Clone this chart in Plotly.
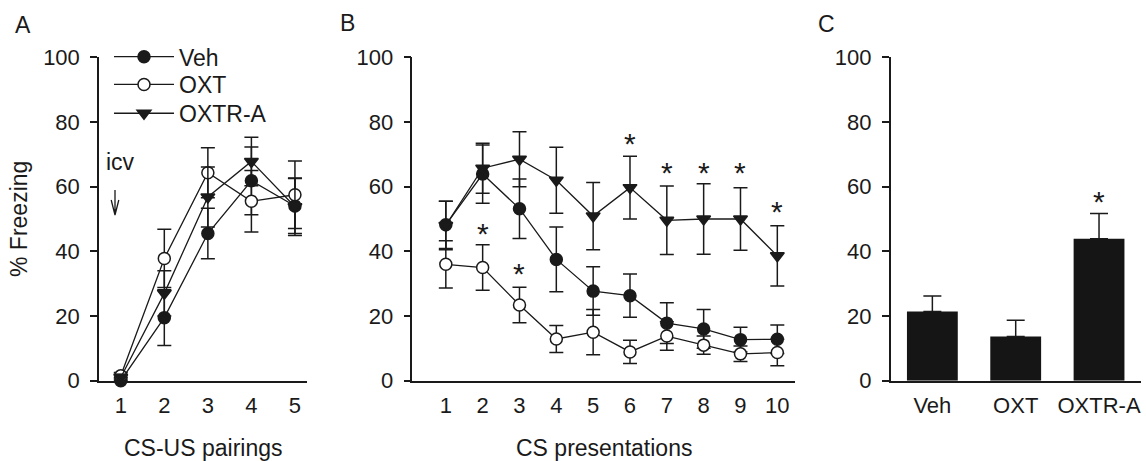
import plotly.graph_objects as go

# ---------------- data ----------------
a_x = [1, 2, 3, 4, 5]
a_veh = [0, 19.5, 45.5, 61.8, 54]
a_veh_err = [1, 8.6, 7.8, 10.5, 8.5]
a_oxt = [1.5, 37.8, 64.3, 55.5, 57.5]
a_oxt_err = [1, 9, 7.7, 9.5, 10.4]
a_oxtra = [1, 27, 56.8, 67.8, 53.8]
a_oxtra_err = [1, 7, 9.3, 7.5, 8.9]

b_x = [1, 2, 3, 4, 5, 6, 7, 8, 9, 10]
b_veh = [48.2, 63.9, 53.2, 37.5, 27.7, 26.3, 17.8, 16, 12.7, 12.8]
b_veh_err = [7.3, 9, 9.2, 10, 7.5, 6.7, 6.3, 6, 3.8, 4.4]
b_oxt = [36, 35, 23.4, 12.9, 15, 8.9, 13.8, 11, 8.3, 8.7]
b_oxt_err = [7.3, 7, 5.5, 4.2, 7, 3.6, 4.4, 2.8, 2.4, 4.1]
b_oxtra = [48, 65.7, 68.5, 62, 50.9, 59.7, 49.6, 50, 50, 38.6]
b_oxtra_err = [7.5, 7.7, 8.5, 10.2, 10.4, 9.7, 10.6, 10.9, 9.7, 9.3]
b_star_x = [2, 3, 6, 7, 8, 9, 10]
b_star_y = [46.4, 34.2, 74.4, 65.2, 65.2, 65.2, 53.3]

c_labels = ["Veh", "OXT", "OXTR-A"]
c_vals = [21.4, 13.7, 43.9]
c_err = [4.8, 5, 7.8]
c_star_x = ["OXTR-A"]
c_star_y = [56.2]

y_ticks = [0, 20, 40, 60, 80, 100]

# ---------------- style ----------------
W, H = 1146, 461
INK = "#1a1a1a"
FONT = "Liberation Sans, Arial, sans-serif"
FS = 23
TFS = 22


def px_x(p):
    return p / W


def px_y(p):
    return (H - p) / H


fig = go.Figure()

series = [
    ("Veh", "circle", INK),
    ("OXT", "circle", "white"),
    ("OXTR-A", "triangle-down", INK),
]
legend_ids = ["legend", "legend2", "legend3"]
legend_rows = [56.7, 84.5, 113.3]
a_vals = [(a_veh, a_veh_err), (a_oxt, a_oxt_err), (a_oxtra, a_oxtra_err)]
b_vals = [(b_veh, b_veh_err), (b_oxt, b_oxt_err), (b_oxtra, b_oxtra_err)]

for (name, sym, fill), (vals, err), lg in zip(series, a_vals, legend_ids):
    fig.add_trace(go.Scatter(
        x=a_x, y=vals, name=name, showlegend=True, legend=lg,
        mode="lines+markers", xaxis="x", yaxis="y", cliponaxis=False,
        line=dict(color=INK, width=1.3),
        marker=dict(symbol=sym, size=12, color=fill, line=dict(color=INK, width=1.5)),
        error_y=dict(type="data", array=err, color=INK, thickness=1.5, width=7),
    ))

for (name, sym, fill), (vals, err) in zip(series, b_vals):
    fig.add_trace(go.Scatter(
        x=b_x, y=vals, name=name, showlegend=False,
        mode="lines+markers", xaxis="x2", yaxis="y2", cliponaxis=False,
        line=dict(color=INK, width=1.3),
        marker=dict(symbol=sym, size=12, color=fill, line=dict(color=INK, width=1.5)),
        error_y=dict(type="data", array=err, color=INK, thickness=1.5, width=7),
    ))

fig.add_trace(go.Bar(
    x=c_labels, y=c_vals, xaxis="x3", yaxis="y3", showlegend=False,
    width=0.61, marker=dict(color="#151515", line=dict(width=0)),
    error_y=dict(type="data", symmetric=False, array=c_err,
                 arrayminus=[0] * len(c_err), color=INK, thickness=1.5, width=9),
))

# ---------------- axes ----------------
y_dom = [px_y(380.7), px_y(57.3)]
yax = dict(range=[0, 100], tickvals=y_ticks, ticks="outside", ticklen=7, tickwidth=1.5,
           tickcolor=INK, showline=True, linecolor=INK, linewidth=1.5, showgrid=False,
           zeroline=False, tickfont=dict(family=FONT, size=TFS, color=INK),
           ticklabelstandoff=6, domain=y_dom, fixedrange=True, automargin=False)
xax = dict(showline=True, linecolor=INK, linewidth=1.5, showgrid=False, zeroline=False,
           ticks="outside", ticklen=4, tickcolor="rgba(0,0,0,0)",
           tickfont=dict(family=FONT, size=TFS, color=INK), fixedrange=True, automargin=False)

leg_common = dict(xanchor="left", yanchor="middle", font=dict(family=FONT, size=FS, color=INK),
                  bgcolor="rgba(0,0,0,0)", itemwidth=60)

fig.update_layout(
    width=W, height=H, margin=dict(l=0, r=0, t=0, b=0, pad=0, autoexpand=False),
    plot_bgcolor="white", paper_bgcolor="white",
    font=dict(family=FONT, size=FS, color=INK),
    xaxis=dict(xax, domain=[px_x(99), px_x(306.7)], range=[0.5, 5.27], tickvals=a_x,
               anchor="y"),
    yaxis=dict(yax, anchor="x"),
    xaxis2=dict(xax, domain=[px_x(412.3), px_x(795)], range=[0.09, 10.48], tickvals=b_x,
                anchor="y2"),
    yaxis2=dict(yax, anchor="x2"),
    xaxis3=dict(xax, domain=[px_x(890.7), px_x(1140.7)], range=[-0.5, 2.5],
                type="category", anchor="y3"),
    yaxis3=dict(yax, anchor="x3"),
    showlegend=True,
    bargap=0.39,
)
for lg, row in zip(legend_ids, legend_rows):
    fig.update_layout({lg: dict(leg_common, x=px_x(109), y=px_y(row))})

ann = []
# panel letters
for t, x, y in [("A", 23, 25), ("B", 347.5, 23.5), ("C", 826.7, 24)]:
    ann.append(dict(text=t, x=px_x(x), y=px_y(y), xref="paper", yref="paper",
                    xanchor="center", yanchor="middle", showarrow=False,
                    font=dict(family=FONT, size=FS, color=INK)))
# axis titles
ann.append(dict(text="CS-US pairings", x=px_x(203), y=px_y(448), xref="paper", yref="paper",
                xanchor="center", yanchor="middle", showarrow=False))
ann.append(dict(text="CS presentations", x=px_x(603.5), y=px_y(448), xref="paper", yref="paper",
                xanchor="center", yanchor="middle", showarrow=False))
ann.append(dict(text="% Freezing", x=px_x(19), y=px_y(219), xref="paper", yref="paper",
                xanchor="center", yanchor="middle", textangle=-90, showarrow=False))
# icv label
ann.append(dict(text="icv", x=px_x(120), y=px_y(162), xref="paper", yref="paper",
                xanchor="center", yanchor="middle", showarrow=False))
# significance stars
for sx, sy in zip(b_star_x, b_star_y):
    ann.append(dict(text="*", x=sx, y=sy, xref="x2", yref="y2", xanchor="center",
                    yanchor="middle", showarrow=False, yshift=-3,
                    font=dict(family=FONT, size=30, color=INK)))
for sx, sy in zip(c_star_x, c_star_y):
    ann.append(dict(text="*", x=sx, y=sy, xref="x3", yref="y3", xanchor="center",
                    yanchor="middle", showarrow=False, yshift=-3,
                    font=dict(family=FONT, size=30, color=INK)))
fig.update_layout(annotations=ann)

# icv arrow (open head)
ax0, ay0, ay1 = px_x(115), px_y(190), px_y(215)
hx0, hx1, hy = px_x(111.2), px_x(118.8), px_y(200)
fig.add_shape(type="path", xref="paper", yref="paper",
              path=f"M {ax0},{ay0} L {ax0},{ay1} M {hx0},{hy} L {ax0},{ay1} L {hx1},{hy}",
              line=dict(color=INK, width=1.3))

fig.write_html("out.html")
